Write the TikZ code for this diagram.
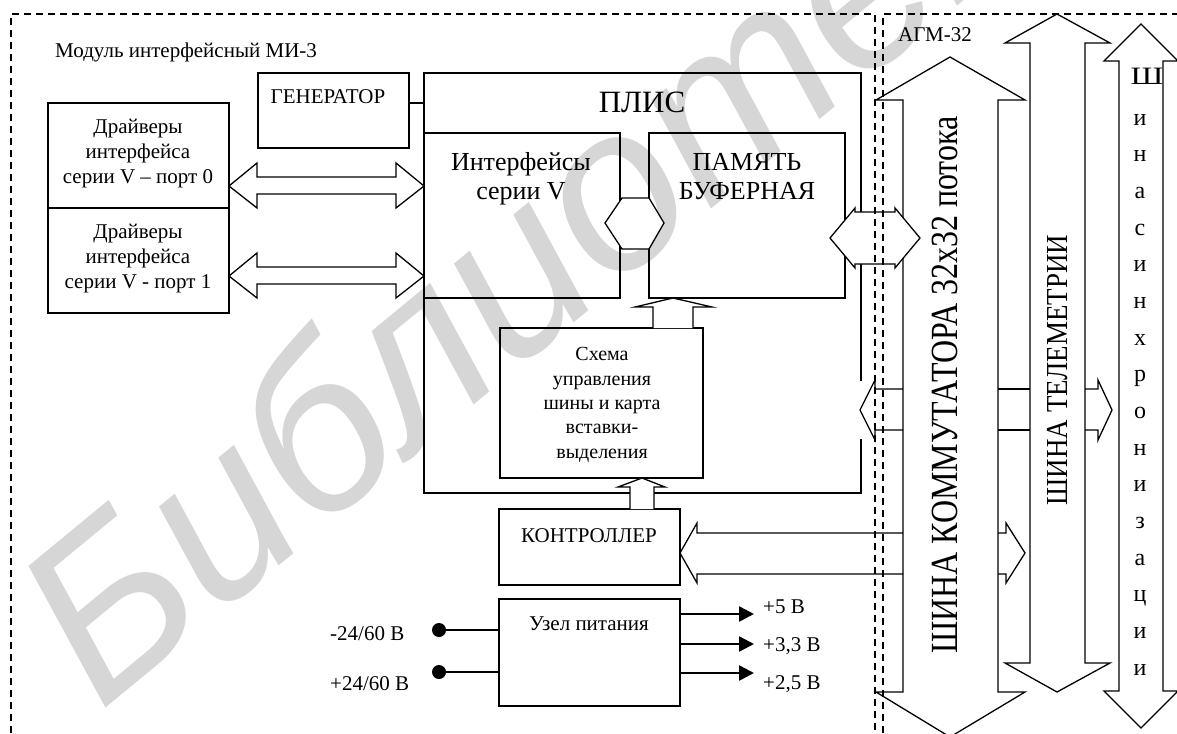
\documentclass[tikz,border=0pt]{standalone}
\usepackage{fontspec}
\setmainfont{Liberation Serif}
\newfontfamily\wmfont{Liberation Sans}
\usetikzlibrary{arrows.meta}
\begin{document}
\begin{tikzpicture}[x=1pt,y=-1pt]
\tikzset{
  box/.style={draw, line width=1.3pt, inner sep=0pt, outer sep=0pt, anchor=north west},
  lbl/.style={inner sep=0pt, anchor=base, font=\fontsize{21}{25}\selectfont},
  lblw/.style={lbl, anchor=base west},
  small/.style={lbl, font=\fontsize{20}{24}\selectfont},
  big/.style={inner sep=0pt, anchor=base, font=\fontsize{26}{30}\selectfont},
  ln/.style={line width=1.3pt},
  fat/.style={line width=1.3pt, fill=white},
  frame/.style={line width=1.2pt, dash pattern=on 7pt off 5pt},
  pw/.style={line width=2.5pt},
  wm/.style={text=black!16, font=\wmfont\itshape\fontsize{230}{230}\selectfont, inner sep=0pt},
}
\useasboundingbox (0,0) rectangle (1177,733);
\fill[white] (0,0) rectangle (1177,733);

% watermark
\node[wm, rotate=39.5] (wm) at (566,221) {Библиотека};

% boxes
\node[box, minimum width=181pt, minimum height=105pt] (drv0) at (48,103) {};
\node[box, minimum width=181pt, minimum height=105pt] (drv1) at (48,208) {};
\node[box, minimum width=151pt, minimum height=75pt] (gen) at (258,73) {};
\node[box, minimum width=437pt, minimum height=420pt] (plis) at (424,73) {};
\node[box, minimum width=196pt, minimum height=165pt] (intf) at (424,133) {};
\node[box, minimum width=196pt, minimum height=165pt] (mem) at (649,133) {};
\node[box, minimum width=203pt, minimum height=150pt] (ctl) at (500,328) {};
\node[box, minimum width=181pt, minimum height=76pt] (kontr) at (499,509) {};
\node[box, minimum width=181pt, minimum height=107pt] (pwr) at (499,599) {};

% gap in PLIS right edge
\fill[white] (858,381) rectangle (864,439);

% generator link
\draw[ln] (gen.east |- 0,103) -- (plis.west |- 0,103);

% buses
\draw[ln] (950,57) -- (1025,100) -- (998,100) -- (998,692) -- (1025,692) -- (950,737) -- (876,692) -- (903,692) -- (903,100) -- (876,100) -- cycle;
\draw[ln] (1057,14) -- (1110,43) -- (1085,43) -- (1085,663) -- (1110,663) -- (1057,692) -- (1005,663) -- (1030,663) -- (1030,43) -- (1005,43) -- cycle;
\draw[ln] (1141,24) -- (1178,61) -- (1163,61) -- (1163,691) -- (1178,691) -- (1141,728) -- (1104,691) -- (1119,691) -- (1119,61) -- (1104,61) -- cycle;

% hexagons
\draw[fat] (605,223) -- (622,198) -- (649,198) -- (664,223) -- (649,249) -- (622,249) -- cycle;
\draw[fat] (830,238) -- (855,208) -- (855,212) -- (895,212) -- (895,208) -- (920,238) -- (895,268) -- (895,264) -- (855,264) -- (855,268) -- cycle;

% driver double arrows
\draw[ln] (229,186) -- (257,163) -- (257,177) -- (396,177) -- (396,163) -- (424,186) -- (396,208) -- (396,194) -- (257,194) -- (257,208) -- cycle;
\draw[ln] (229,276) -- (257,253) -- (257,267) -- (396,267) -- (396,253) -- (424,276) -- (396,298) -- (396,284) -- (257,284) -- (257,298) -- cycle;

% bus to PLIS and across
\draw[ln] (903,389) -- (875,389) -- (875,380) -- (860,410) -- (875,440) -- (875,430) -- (903,430);
\draw[ln] (998,389) -- (1030,389);
\draw[ln] (998,430) -- (1030,430);
\draw[ln] (1085,389) -- (1098,389) -- (1098,380) -- (1112,410) -- (1098,440) -- (1098,430) -- (1085,430);

% controller arrows
\draw[ln] (903,533) -- (697,533) -- (697,523) -- (kontr.east |- 0,553) -- (697,583) -- (697,574) -- (903,574);
\draw[ln] (998,533) -- (1006,533) -- (1006,523) -- (1025,553) -- (1006,583) -- (1006,574) -- (998,574);

% up arrows
\draw[fat] (653,328) -- (653,307) -- (635,307) -- (673,298) -- (712,307) -- (693,307) -- (693,328);
\draw[fat] (630,509) -- (630,487) -- (618,487) -- (642,478) -- (665,487) -- (654,487) -- (654,509);

% power
\fill (439,630) circle (7pt);
\fill (439,672) circle (7pt);
\draw[pw] (439,630) -- (pwr.west |- 0,630);
\draw[pw] (439,672) -- (pwr.west |- 0,672);
\draw[pw, -{Triangle[length=15pt,width=15pt]}] (pwr.east |- 0,614) -- (754,614);
\draw[pw, -{Triangle[length=15pt,width=15pt]}] (pwr.east |- 0,644) -- (754,644);
\draw[pw, -{Triangle[length=15pt,width=15pt]}] (pwr.east |- 0,673) -- (754,673);

% texts
\node[lblw] (title) at (55,58) {Модуль интерфейсный МИ-3};
\node[lblw] (agm) at (898,42) {АГМ-32};
\node[lbl] (gent) at (328,103) {ГЕНЕРАТОР};
\node[lbl, font=\fontsize{31}{35}\selectfont] (plist) at (642,113) {ПЛИС};
\node[lbl] (d0a) at (138,133) {Драйверы};
\node[lbl] (d0b) at (138,158) {интерфейса};
\node[lbl] (d0c) at (138,183) {серии V – порт 0};
\node[lbl] (d1a) at (138,238) {Драйверы};
\node[lbl] (d1b) at (138,263) {интерфейса};
\node[lbl] (d1c) at (138,288) {серии V - порт 1};
\node[big] (ia) at (521,170) {Интерфейсы};
\node[big] (ib) at (521,199) {серии V};
\node[big] (ma) at (747,170) {ПАМЯТЬ};
\node[big] (mb) at (747,199) {БУФЕРНАЯ};
\node[small] (c1) at (602,360) {Схема};
\node[small] (c2) at (602,385) {управления};
\node[small] (c3) at (602,409) {шины и карта};
\node[small] (c4) at (602,433) {вставки-};
\node[small] (c5) at (602,458) {выделения};
\node[lbl] (kt) at (589,542) {КОНТРОЛЛЕР};
\node[lbl] (pt) at (589,630) {Узел питания};
\node[lblw] (inm) at (330,640) {-24/60 В};
\node[lblw] (inp) at (330,690) {+24/60 В};
\node[lblw] (v5) at (763,613) {+5 В};
\node[lblw] (v33) at (763,651) {+3,3 В};
\node[lblw] (v25) at (763,689) {+2,5 В};

\node[inner sep=0pt, rotate=90, yscale=1.2, font=\fontsize{32}{32}\selectfont] (kom) at (945,385) {ШИНА КОММУТАТОРА 32х32 потока};
\node[inner sep=0pt, rotate=90, yscale=1.13, font=\fontsize{27}{27}\selectfont] (tel) at (1058,370) {ШИНА ТЕЛЕМЕТРИИ};
\node[inner sep=0pt, anchor=base, xscale=1.3, font=\fontsize{25}{25}\selectfont] (sh) at (1147,85) {Ш};
\foreach \c [count=\i from 0] in {и,н,а,с,и,н,х,р,о,н,и,з,а,ц,и,и}
  \node[inner sep=0pt, anchor=base, font=\fontsize{24}{24}\selectfont] (s\i) at (1140,125+36.67*\i) {\c};

% dashed frames
\draw[frame] (11,733) -- (11,14) -- (875,14) -- (875,733);
\draw[frame] (883,733) -- (883,14) -- (1177,14);
\end{tikzpicture}
\end{document}
